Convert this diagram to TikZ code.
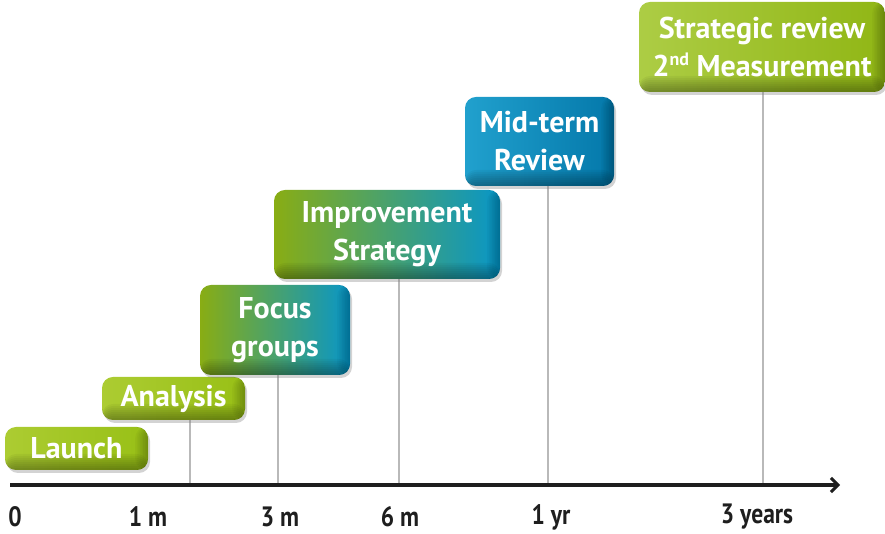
\documentclass[tikz,border=0pt]{standalone}
\usepackage{fontspec}
\setmainfont{PT Sans}
\usetikzlibrary{arrows.meta,shadows}
\definecolor{limegreen}{RGB}{152,192,22}
\definecolor{lightlime}{RGB}{172,204,50}
\definecolor{seablue}{RGB}{8,150,200}
\definecolor{deepblue}{RGB}{4,120,170}
\definecolor{tealmid}{RGB}{40,170,150}
\definecolor{axisgray}{RGB}{30,30,30}
\newcommand{\narrow}[1]{\scalebox{0.84}[1]{#1}}

\tikzset{
  stage/.style={rounded corners=11pt, text=white, align=center,
    font=\bfseries\fontsize{30}{38}\selectfont, inner sep=0pt,
    drop shadow={opacity=0.35, shadow xshift=2pt, shadow yshift=-3pt},
    path picture={
      % darker rim along the bottom and right edge
      \foreach \i in {1,...,8} {
        \fill[black, fill opacity=0.045]
          (path picture bounding box.south west) rectangle
          ([yshift=\i*2pt]path picture bounding box.south east);
        \fill[black, fill opacity=0.03]
          (path picture bounding box.north east) rectangle
          ([xshift=-\i*1.6pt]path picture bounding box.south east);
      }}},
  greenstage/.style={stage, left color=lightlime, right color=limegreen},
  mixstage/.style={stage, left color=limegreen!90!black, middle color=tealmid, right color=seablue},
  bluestage/.style={stage, left color=seablue!90, right color=deepblue},
  drop/.style={draw=gray!55, line width=1.5pt},
  tick/.style={text=axisgray, font=\bfseries\fontsize{28}{28}\selectfont}
}

\begin{document}
\begin{tikzpicture}[x=1pt, y=1pt]
  \useasboundingbox (0,0) rectangle (885,534);

  % Tick points on the time axis
  \coordinate (t1) at (190,49);
  \coordinate (t3) at (278,49);
  \coordinate (t6) at (399,49);
  \coordinate (t12) at (548,49);
  \coordinate (t36) at (763,49);

  % Drop lines sit behind the boxes
  \draw[drop] (t1) -- ++(0,66);
  \draw[drop] (t3) -- ++(0,160);
  \draw[drop] (t6) -- ++(0,210);
  \draw[drop] (t12) -- ++(0,300);
  \draw[drop] (t36) -- ++(0,400);

  % Stages
  \node[greenstage, minimum width=143pt, minimum height=43pt] (launch) at (76.5,85.5) {Launch};
  \node[greenstage, minimum width=143pt, minimum height=43pt] (analysis) at (173.5,135.5) {Analysis};
  \node[mixstage, minimum width=150pt, minimum height=90pt] (focus) at (275,204) {Focus\\groups};
  \node[mixstage, minimum width=226pt, minimum height=89pt] (improve) at (387,299.5) {Improvement\\Strategy};
  \node[bluestage, minimum width=149pt, minimum height=89pt] (midterm) at (539.5,392.5) {Mid-term\\Review};
  \node[greenstage, left color=limegreen!80!white, right color=limegreen!95!black,
    minimum width=246pt, minimum height=90pt] (review) at (762,487)
    {Strategic review\\2\raisebox{0.35em}{\fontsize{18}{18}\selectfont nd} Measurement};

  % Time axis
  \coordinate (start) at (10,49);
  \coordinate (stop) at (840,49);
  \draw[axisgray, line width=4pt, -{Straight Barb[length=7pt, width=14pt, line width=3pt]}] (start) -- (stop);

  % Axis labels
  \node[tick] (l0) at (15,17) {\narrow{0}};
  \node[tick] (l1) at (148,17) {\narrow{1 m}};
  \node[tick] (l3) at (280,17) {\narrow{3 m}};
  \node[tick] (l6) at (400,17) {\narrow{6 m}};
  \node[tick] (l12) at (551,17) {\narrow{1 yr}};
  \node[tick] (l36) at (757,17) {\narrow{3 years}};
\end{tikzpicture}
\end{document}
